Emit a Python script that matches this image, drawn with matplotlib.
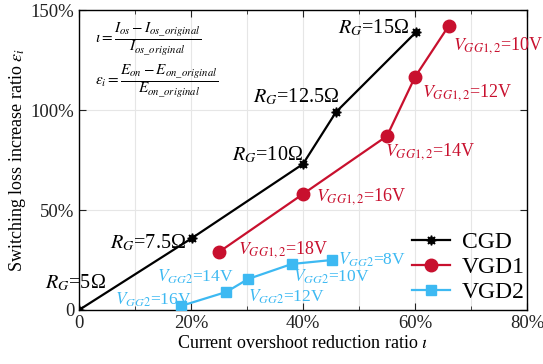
import numpy as np
import matplotlib
matplotlib.use('Agg')
import matplotlib.pyplot as plt
from matplotlib.ticker import MultipleLocator, FuncFormatter

plt.rcParams['font.family'] = ['Liberation Serif', 'DejaVu Serif']
plt.rcParams['mathtext.fontset'] = 'stix'

# data (percent)
cgd_x = [0, 20.2, 40, 45.9, 60.2]
cgd_y = [0, 36, 73, 99, 139]
cgd_labels = ['5', '7.5', '10', '12.5', '15']

vgd1_x = [25, 40, 55, 60, 66]
vgd1_y = [29, 58, 87, 116.5, 142]
vgd1_labels = ['18', '16', '14', '12', '10']

vgd2_x = [18.2, 26.3, 30.2, 38, 45.2]
vgd2_y = [2, 9, 15.5, 23, 25]
vgd2_labels = ['16', '14', '12', '10', '8']

# label anchor positions (left, center)
cgd_pos = [(-6.1, 13.5), (5.5, 33.5), (27.3, 77.5), (31.1, 106.5), (46.3, 141)]
vgd1_pos = [(28.4, 30), (42.3, 56.5), (54.6, 79), (61.3, 108.5), (66.8, 132.5)]
vgd2_pos = [(6.4, 5), (13.9, 16.5), (30.2, 6.5), (38.2, 16.5), (46.3, 25)]

red = '#C8102E'
blue = '#3DB9F2'

fig = plt.figure(figsize=(5.43, 3.64), dpi=100)
ax = fig.add_axes([0.1455, 0.1484, 0.825, 0.824])

ax.plot(cgd_x, cgd_y, '-', marker=(8, 1, 0), color='black', lw=1.6, ms=7,
        label='CGD', zorder=4)
ax.plot(vgd1_x, vgd1_y, '-o', color=red, lw=1.6, ms=9, label='VGD1', zorder=4)
ax.plot(vgd2_x, vgd2_y, '-s', color=blue, lw=1.6, ms=7, label='VGD2', zorder=4)

for lab, (px, py) in zip(cgd_labels, cgd_pos):
    ax.text(px, py, r'$R_G$=' + lab + 'Ω', fontsize=14.5, ha='left', va='center',
            color='black', zorder=5)
for lab, (px, py) in zip(vgd1_labels, vgd1_pos):
    ax.text(px, py, r'$V_{GG1,2}$=' + lab + 'V', fontsize=13, ha='left', va='center',
            color=red, zorder=5)
for lab, (px, py) in zip(vgd2_labels, vgd2_pos):
    ax.text(px, py, r'$V_{GG2}$=' + lab + 'V', fontsize=12.5, ha='left', va='center',
            color=blue, zorder=5)

# formulas
ax.text(2.9, 136, r'$\iota=\dfrac{I_{os}-I_{os\_original}}{I_{os\_original}}$',
        fontsize=11, ha='left', va='center')
ax.text(2.9, 115, r'$\varepsilon_i=\dfrac{E_{on}-E_{on\_original}}{E_{on\_original}}$',
        fontsize=11, ha='left', va='center')

ax.set_xlim(0, 80)
ax.set_ylim(0, 150)
ax.xaxis.set_major_locator(MultipleLocator(20))
ax.xaxis.set_minor_locator(MultipleLocator(10))
ax.yaxis.set_major_locator(MultipleLocator(50))
ax.xaxis.set_major_formatter(FuncFormatter(lambda v, p: '0' if v == 0 else f'{v:.0f}%'))
ax.yaxis.set_major_formatter(FuncFormatter(lambda v, p: '0' if v == 0 else f'{v:.0f}%'))
ax.grid(True, which='both', axis='x', color='#e6e6e6', lw=0.8)
ax.grid(True, which='major', axis='y', color='#e6e6e6', lw=0.8)
ax.tick_params(which='both', direction='in', top=True, right=True, labelsize=13.5,
               colors='#222222')
ax.tick_params(which='major', length=5)
ax.tick_params(which='minor', length=3)
for s in ax.spines.values():
    s.set_linewidth(1.0)

ax.set_xlabel(r'Current overshoot reduction ratio $\iota$', fontsize=13, labelpad=2)
ax.set_ylabel(r'Switching loss increase ratio $\varepsilon_i$', fontsize=13, labelpad=2)

ax.legend(loc='lower right', frameon=False, fontsize=17, handlelength=1.6,
          handletextpad=0.5, labelspacing=0.15, borderaxespad=0.1,
          bbox_to_anchor=(1.022, -0.017))

fig.savefig('out.png', dpi=100)
